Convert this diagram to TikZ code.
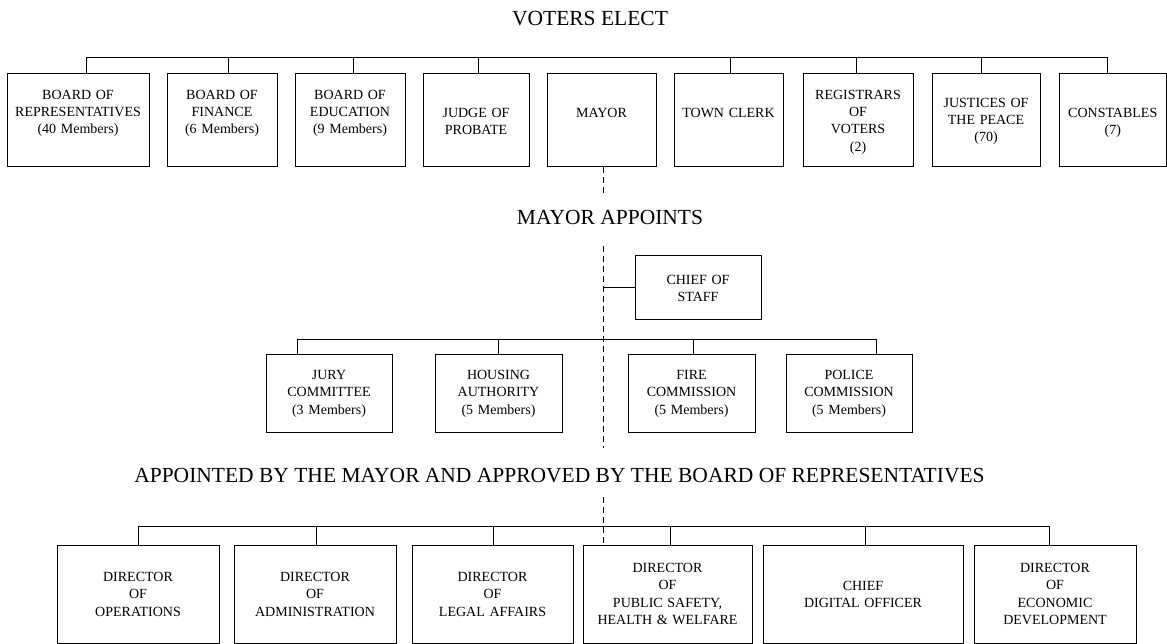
\documentclass[tikz,border=0pt]{standalone}
\usepackage{fontspec}
\setmainfont{Liberation Serif}
\newcommand\orgbox[7]{%
  \node[box, minimum width={#4-#2}, minimum height={#5-#3}] (#1) at ({(#2+#4)/2},{(#3+#5)/2}) {};
  \node[txt] (#1t) at ({(#2+#4)/2},#6) {#7};}
\begin{document}
\begin{tikzpicture}[x=1pt,y=-1pt,
  box/.style={draw, line width=1pt, inner sep=0pt, outer sep=0pt, rectangle},
  txt/.style={font=\fontsize{14}{17.2}\selectfont, align=center, text width=200pt, inner sep=0pt, anchor=base},
  head/.style={font=\fontsize{21.5}{25}\selectfont, inner sep=0pt, anchor=base},
  link/.style={line width=1pt},
  mayorline/.style={line width=1pt, dash pattern=on 6pt off 4pt}]
\useasboundingbox (0,0) rectangle (1167,644);

% headings
\node[head] (h1) at (590,25.6) {VOTERS ELECT};
\node[head] (h2) at (610,225) {MAYOR APPOINTS};
\node[head] (h3) at (559.5,482) {APPOINTED BY THE MAYOR AND APPROVED BY THE BOARD OF REPRESENTATIVES};

% top row
\orgbox{bor}{7}{74}{149}{167}{99.6}{BOARD OF\\REPRESENTATIVES\\(40 Members)}
\orgbox{bof}{167}{74}{277}{167}{99.6}{BOARD OF\\FINANCE\\(6 Members)}
\orgbox{boe}{295}{74}{405}{167}{99.6}{BOARD OF\\EDUCATION\\(9 Members)}
\orgbox{jop}{423}{74}{529}{167}{117.6}{JUDGE OF\\PROBATE}
\orgbox{mayor}{547}{74}{656}{167}{117.6}{MAYOR}
\orgbox{clerk}{674}{74}{783}{167}{117.6}{TOWN CLERK}
\orgbox{reg}{803}{74}{913}{167}{99.6}{REGISTRARS\\OF\\VOTERS\\(2)}
\orgbox{jp}{932}{74}{1040}{167}{107.6}{JUSTICES OF\\THE PEACE\\(70)}
\orgbox{con}{1059}{74}{1166.5}{167}{117.6}{CONSTABLES\\(7)}

\coordinate (tbL) at (86,58);
\coordinate (tbR) at (1107,58);
\draw[link] (bor.north -| 86,0) -- (tbL) -- (tbR) -- (con.north -| 1107,0);
\foreach \n/\x in {bof/228,boe/353,jop/478,clerk/730,reg/856,jp/981}
  \draw[link] (\n.north -| \x,0) -- (tbL -| \x,0);

% mayor appoints
\orgbox{cos}{635}{256}{761}{319}{284.6}{CHIEF OF\\STAFF}
\orgbox{jury}{266}{354}{392}{432}{379.6}{JURY\\COMMITTEE\\(3 Members)}
\orgbox{hous}{435}{354}{562}{432}{379.6}{HOUSING\\AUTHORITY\\(5 Members)}
\orgbox{fire}{628}{354}{755}{432}{379.6}{FIRE\\COMMISSION\\(5 Members)}
\orgbox{pol}{786}{354}{912}{432}{379.6}{POLICE\\COMMISSION\\(5 Members)}

\coordinate (mL) at (297,339);
\coordinate (mR) at (876,339);
\draw[link] (jury.north -| 297,0) -- (mL) -- (mR) -- (pol.north -| 876,0);
\foreach \n/\x in {hous/498,fire/693}
  \draw[link] (\n.north -| \x,0) -- (mL -| \x,0);

% bottom row
\orgbox{ops}{57}{545}{219}{643.5}{581.6}{DIRECTOR\\OF\\OPERATIONS}
\orgbox{adm}{234}{545}{396}{643.5}{581.6}{DIRECTOR\\OF\\ADMINISTRATION}
\orgbox{leg}{412}{545}{573}{643.5}{581.6}{DIRECTOR\\OF\\LEGAL AFFAIRS}
\orgbox{pub}{583}{545}{752}{643.5}{572.6}{DIRECTOR\\OF\\PUBLIC SAFETY,\\HEALTH \& WELFARE}
\orgbox{cdo}{763}{545}{963}{643.5}{590.6}{CHIEF\\DIGITAL OFFICER}
\orgbox{eco}{974}{545}{1136}{643.5}{572.6}{DIRECTOR\\OF\\ECONOMIC\\DEVELOPMENT}

\coordinate (bL) at (138,526);
\coordinate (bR) at (1049,526);
\draw[link] (ops.north -| 138,0) -- (bL) -- (bR) -- (eco.north -| 1049,0);
\foreach \n/\x in {adm/316,leg/493,pub/670,cdo/865}
  \draw[link] (\n.north -| \x,0) -- (bL -| \x,0);

% mayor dashed line
\coordinate (d1) at (603,193);
\coordinate (d2) at (603,246);
\coordinate (d3) at (603,448);
\coordinate (d4) at (603,497);
\draw[mayorline] (mayor.south -| d1) -- (d1);
\draw[mayorline] (d2) -- (d3);
\draw[mayorline] (d4) -- (pub.north -| d4);
\draw[link] (cos.west) -- (cos.west -| d2);
\end{tikzpicture}
\end{document}
